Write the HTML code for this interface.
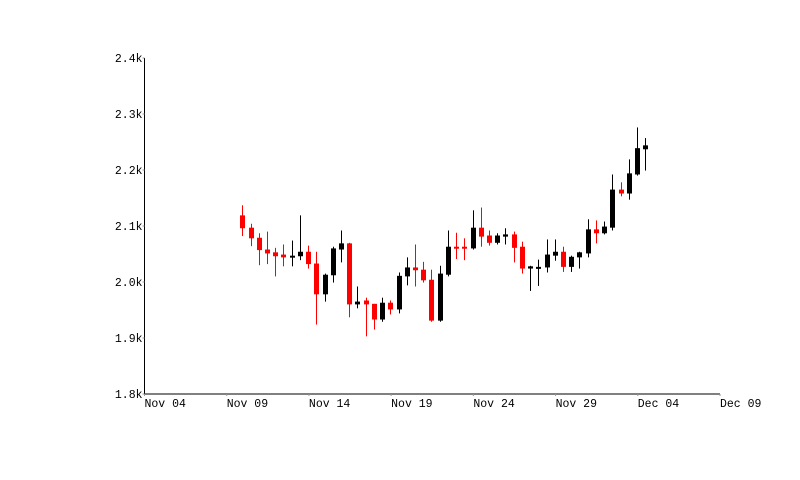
<!DOCTYPE html>
<html><head><meta charset="utf-8"><style>
body{margin:0;background:#fff;}
svg{display:block;font-family:"Liberation Mono",monospace;font-size:11.5px;}
</style></head><body>
<svg id="chart" width="800" height="480" viewBox="0 0 800 480">
<g id="axes"></g>
<g id="candles"></g>
</svg>
<script>
const opens  = [2119,2097,2079,2058,2053,2049,2044,2046,2054,2033,1978,2012,2058,2069,1960,1967,1961,1933,1963,1951,2010,2026,2022,2004,1931,2013,2063,2063,2060,2097,2083,2070,2081,2085,2063,2024,2026,2026,2047,2054,2027,2044,2051,2094,2087,2097,2165,2158,2192,2237];
const highs  = [2137,2104,2087,2090,2061,2067,2074,2119,2065,2054,2015,2063,2092,2070,1992,1972,1961,1972,1967,2017,2044,2067,2036,2022,2029,2092,2088,2078,2128,2133,2092,2087,2096,2090,2072,2029,2040,2076,2076,2063,2047,2054,2112,2110,2108,2192,2178,2219,2276,2257];
const lows   = [2082,2064,2030,2032,2010,2028,2028,2039,2024,1924,1965,1999,2035,1937,1953,1903,1915,1929,1942,1944,1994,1992,1999,1929,1929,2010,2041,2039,2058,2063,2065,2067,2067,2035,2015,1984,1993,2017,2038,2018,2018,2024,2044,2069,2085,2092,2153,2147,2190,2199];
const closes = [2096,2078,2057,2051,2046,2044,2047,2054,2032,1978,2013,2060,2069,1960,1965,1960,1933,1963,1951,2011,2026,2021,2003,1931,2015,2063,2062,2060,2097,2081,2070,2083,2085,2061,2024,2028,2027,2049,2054,2027,2045,2053,2094,2087,2099,2165,2158,2194,2239,2244];
// time of each candle, in days after Nov 04 (12-hour bars)
const times = opens.map((_, i) => 5.95 + i * 0.5);
const yTicks = [1800,1900,2000,2100,2200,2300,2400];
const yTickLabels = ["1.8k","1.9k","2.0k","2.1k","2.2k","2.3k","2.4k"];
const xTicks = [0,5,10,15,20,25,30,35];
const xTickLabels = ["Nov 04","Nov 09","Nov 14","Nov 19","Nov 24","Nov 29","Dec 04","Dec 09"];

const X0=144.5, X1=720, Y0=394, Y1=58;
const xS = d => X0 + d/35*(X1-X0);
const yS = v => Y0 - (v-1800)/600*(Y0-Y1);
const NS="http://www.w3.org/2000/svg";
function mk(tag, attrs, parent){const e=document.createElementNS(NS,tag);for(const k in attrs)e.setAttribute(k,attrs[k]);parent.appendChild(e);return e;}
const axes=document.getElementById('axes'), cg=document.getElementById('candles');

const ya=mk('line',{x1:X0,y1:Y1,x2:X0,y2:Y0,stroke:'#000','stroke-width':1},axes);


const xa=mk('line',{x1:X0,y1:Y0,x2:X1,y2:Y0,stroke:'#000','stroke-width':1},axes);



yTicks.forEach((v,i)=>{
  const y=yS(v);
  mk('line',{x1:X0-2,y1:y,x2:X0,y2:y,stroke:'#999'},axes);
  const t=mk('text',{x:X0-2,y:y+4,'text-anchor':'end',fill:'#000'},axes);
  t.textContent=yTickLabels[i];
  
  
});
xTicks.forEach((d,i)=>{
  const x=xS(d);
  mk('line',{x1:x,y1:Y0,x2:x,y2:Y0+2,stroke:'#999'},axes);
  const t=mk('text',{x:x,y:Y0+13,fill:'#000'},axes);
  t.textContent=xTickLabels[i];
  
  
});

opens.forEach((o,i)=>{
  const c=closes[i], x=Math.round(xS(times[i]));
  const col = c<o ? '#ff0000' : '#000000';
  const g=mk('g',{},cg);
  
  
  mk('rect',{x:x,y:yS(highs[i]),width:1,height:yS(lows[i])-yS(highs[i]),fill:col},g);
  const top=yS(Math.max(o,c)), bot=yS(Math.min(o,c));
  mk('rect',{x:x-2,y:top,width:5,height:Math.max(2,bot-top),fill:col},g);
});
</script>
</body></html>
